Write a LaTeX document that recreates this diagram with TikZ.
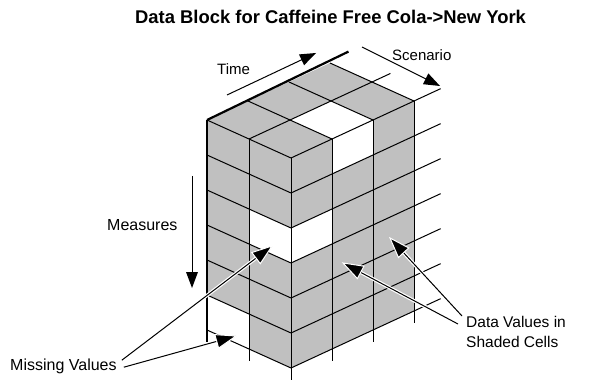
\documentclass[tikz,border=0pt]{standalone}
\usepackage{fontspec}
\setmainfont{Liberation Sans}
\usetikzlibrary{calc}
\definecolor{cellgray}{RGB}{192,192,192}

\begin{document}
\begin{tikzpicture}[x=1pt,y=-1pt,
	lbl/.style={inner sep=0pt},
	grid/.style={draw=black,line width=1pt},
	edge/.style={draw=black,line width=2.2pt},
	axis/.style={draw=black,line width=1pt},
	callout/.style={draw=black,line width=1pt,preaction={draw=white,line width=3.4pt}},
	head/.style={fill=black,draw=white,line width=1pt}]
	\useasboundingbox (0,0) rectangle (608,385);
	% faces
	\fill[cellgray] (207,120) -- (330,63) -- (414,101) -- (291,158) -- cycle;
	\fill[cellgray] (207,120) -- (291,158) -- (291,368) -- (207,330) -- cycle;
	\fill[cellgray] (291,158) -- (414,101) -- (414,311) -- (291,368) -- cycle;
	% missing cells
	\fill[white] (290,120) -- (331,101) -- (373,120) -- (332,139) -- cycle;
	\fill[white] (332,139) -- (373,120) -- (373,155) -- (332,174) -- cycle;
	\fill[white] (249,209) -- (291,228) -- (291,263) -- (249,244) -- cycle;
	\fill[white] (291,228) -- (332,209) -- (332,244) -- (291,263) -- cycle;
	\fill[white] (207,295) -- (249,314) -- (249,349) -- (207,330) -- cycle;
	% grid
	\foreach \j/\e in {1/3.45,2/3.65}
		\draw[grid] ({207+42*\j},{120+19*\j}) -- ++({41*\e},{-19*\e});
	\foreach \i in {0,...,3}
		\draw[grid] ({207+41*\i},{120-19*\i}) -- ++(84,38);
	\foreach \k in {1,...,6}
		\draw[grid] (207,{120+35*\k}) -- ++(84,38);
	\foreach \k in {1,...,6}
		\draw[grid] (291,{158+35*\k}) -- ++({41*3.65},{-19*3.65});
	\foreach \j in {1,2}
		\draw[grid] ({207+42*\j},{120+19*\j}) -- ++(0,222);
	\foreach \i in {1,2,3}
		\draw[grid] ({291+41*\i},{158-19*\i}) -- ++(0,222);
	\draw[edge] (207,120) -- (207,342);
	\draw[edge] (207,120) -- ++({41*3.45},{-19*3.6});
	% labels
	\node[lbl,font=\bfseries\fontsize{18.4}{22}\selectfont,anchor=base west] (title) at (135,24) {Data Block for Caffeine Free Cola->New York};
	\node[lbl,font=\fontsize{15}{18}\selectfont,anchor=base west] (time) at (217,75) {Time};
	\node[lbl,font=\fontsize{15}{18}\selectfont,anchor=base west] (scen) at (392,61) {Scenario};
	\node[lbl,font=\fontsize{16}{19}\selectfont,anchor=base west] (meas) at (107,230) {Measures};
	\node[lbl,font=\fontsize{16}{19}\selectfont,anchor=base west] (missing) at (10,370) {Missing Values};
	\node[lbl,font=\fontsize{15.5}{20}\selectfont,anchor=north west,align=left] (dataval) at (466,316) {Data Values in\\Shaded Cells};
	% axes
	\coordinate (t0) at (227,95);
	\coordinate (t1) at (316,53);
	\coordinate (s0) at (362,47);
	\coordinate (s1) at (440,86);
	\coordinate (m0) at (192,176);
	\coordinate (m1) at (192,288);
	\foreach \a/\b in {t0/t1,s0/s1,m0/m1}{
		\draw[axis] (\a) -- ($(\b)!13pt!(\a)$);
		\fill ($(\b)!16pt!(\a)!6pt!90:(\b)$) -- (\b) -- ($(\b)!16pt!(\a)!6pt!-90:(\b)$) -- cycle;
	}
	% callouts
	\coordinate (mv1) at ([shift={(5,2)}]missing.north east);
	\coordinate (mv2) at ([shift={(7,9)}]missing.north east);
	\coordinate (dv1) at ([shift={(-8,8)}]dataval.north west);
	\coordinate (dv2) at ([shift={(-4,0)}]dataval.north west);
	\coordinate (gap1) at (272,246);
	\coordinate (gap2) at (236,336);
	\coordinate (val1) at (343,263);
	\coordinate (val2) at (390,238);
	\foreach \a/\b in {mv1/gap1,mv2/gap2,dv1/val1,dv2/val2}{
		\draw[callout] (\a) -- ($(\b)!17pt!(\a)$);
		\filldraw[head] ($(\b)!20pt!(\a)!7pt!90:(\b)$) -- (\b) -- ($(\b)!20pt!(\a)!7pt!-90:(\b)$) -- cycle;
	}
\end{tikzpicture}
\end{document}
